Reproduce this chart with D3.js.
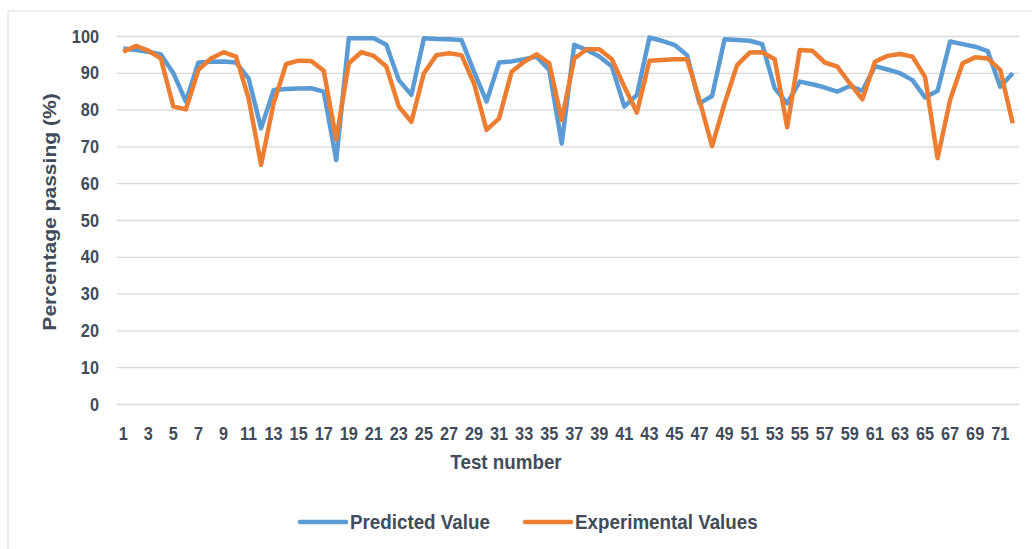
<!DOCTYPE html>
<html>
<head>
<meta charset="utf-8">
<script src="https://cdn.jsdelivr.net/npm/d3@7"></script>
<style>
  html, body { margin: 0; padding: 0; background: #ffffff; }
  svg { display: block; }
  text { font-family: "Liberation Sans", Arial, sans-serif; font-weight: bold; fill: #414b59; }
</style>
</head>
<body>
<svg id="chart" width="1032" height="549"></svg>
<script>
// ---- data ----
const tests = d3.range(1, 73);
const predicted = [
  96.6, 96.2, 95.7, 95.0, 89.9, 82.2, 92.8, 93.0, 93.1, 92.8, 88.5, 74.9, 85.3, 85.6, 85.7, 85.8, 84.9, 66.3,
  99.4, 99.4, 99.4, 97.6, 88.0, 84.0, 99.4, 99.2, 99.1, 98.9, 90.3, 82.2, 92.8, 93.1, 93.7, 94.4, 90.8, 70.8,
  97.6, 96.2, 94.4, 91.7, 80.8, 84.0, 99.6, 98.7, 97.6, 94.8, 81.7, 83.7, 99.1, 98.9, 98.7, 97.8, 85.8, 81.7,
  87.6, 86.9, 86.0, 84.9, 86.4, 85.1, 91.8, 90.9, 89.9, 88.0, 83.3, 85.1, 98.5, 97.8, 97.1, 95.9, 86.2, 89.9
];
const experimental = [
  95.7, 97.3, 96.0, 93.9, 80.8, 80.1, 90.8, 93.9, 95.6, 94.4, 83.1, 65.0, 81.7, 92.4, 93.3, 93.2, 90.6, 71.9,
  92.6, 95.6, 94.6, 91.7, 80.8, 76.7, 89.9, 94.8, 95.3, 94.8, 87.1, 74.5, 77.6, 90.3, 93.0, 95.0, 92.6, 77.2,
  93.9, 96.4, 96.4, 93.7, 86.2, 79.2, 93.3, 93.5, 93.7, 93.7, 82.5, 70.1, 81.7, 92.1, 95.5, 95.6, 93.7, 75.2,
  96.2, 96.0, 92.8, 91.7, 87.1, 82.8, 93.0, 94.6, 95.1, 94.4, 88.9, 66.8, 82.6, 92.6, 94.2, 93.9, 90.8, 76.3
];
const yTicks = [0, 10, 20, 30, 40, 50, 60, 70, 80, 90, 100];
const xTicks = tests.filter(d => d % 2 === 1);
const seriesNames = ["Predicted Value", "Experimental Values"];
const seriesColors = ["#5b9bd5", "#ed7d31"];

// ---- layout ----
const svg = d3.select("#chart");
const pLeft = 117, pRight = 1019, pTop = 36, pBottom = 404;
const SY = 1.12; // vertical stretch of the reference text

svg.append("rect").attr("x", 8).attr("y", 11).attr("width", 1040).attr("height", 560)
  .attr("fill", "#fff").attr("stroke", "#d9d9d9").attr("stroke-width", 1);

const x = d3.scaleBand().domain(tests).range([pLeft, pRight]);
const y = d3.scaleLinear().domain([0, 100]).range([pBottom, pTop]);
const cx = d => x(d) + x.bandwidth() / 2;

// gridlines + y labels
const yAxis = svg.append("g").attr("transform", `translate(${pLeft},0)`)
  .call(d3.axisLeft(y).tickValues(yTicks).tickSize(-(pRight - pLeft)).tickPadding(18));
yAxis.select(".domain").remove();
yAxis.selectAll(".tick line").attr("stroke", "#d9d9d9").attr("stroke-width", 1.3);
yAxis.selectAll(".tick text")
  .style("font-size", "16.3px").attr("dy", "0.33em")
  .attr("transform", `scale(1,${SY})`);

// x labels
const xAxis = svg.append("g").attr("transform", `translate(0,${pBottom})`)
  .call(d3.axisBottom(x).tickValues(xTicks).tickSize(0).tickPadding(0));
xAxis.select(".domain").remove();
xAxis.selectAll(".tick text")
  .style("font-size", "16.3px").attr("y", 0).attr("dy", "1.95em")
  .attr("transform", `scale(1,${SY})`);

// lines
const line = d3.line().x((d, i) => cx(tests[i])).y(d => y(d));
[predicted, experimental].forEach((s, k) => {
  svg.append("path").datum(s).attr("d", line)
    .attr("fill", "none").attr("stroke", seriesColors[k])
    .attr("stroke-width", 4.5).attr("stroke-linejoin", "round").attr("stroke-linecap", "butt");
});

// axis titles
svg.append("text").attr("transform", `translate(506,462) scale(1,${SY})`)
  .attr("text-anchor", "middle").attr("dy", "0.35em").style("font-size", "18.8px").text("Test number");
svg.append("text").attr("transform", `translate(49,212) rotate(-90) scale(${SY},1)`)
  .attr("text-anchor", "middle").attr("dy", "0.35em").style("font-size", "18.8px").text("Percentage passing (%)");

// legend
const legendX = [300, 525];
seriesNames.forEach((n, k) => {
  const g = svg.append("g").attr("transform", `translate(${legendX[k]},522)`);
  g.append("line").attr("x1", 0).attr("x2", 46).attr("y1", 0).attr("y2", 0)
    .attr("stroke", seriesColors[k]).attr("stroke-width", 4.5).attr("stroke-linecap", "round");
  g.append("text").attr("x", 50).attr("dy", "0.35em").attr("transform", `scale(1,${SY})`)
    .style("font-size", "18.8px").text(n);
});
</script>
</body>
</html>
